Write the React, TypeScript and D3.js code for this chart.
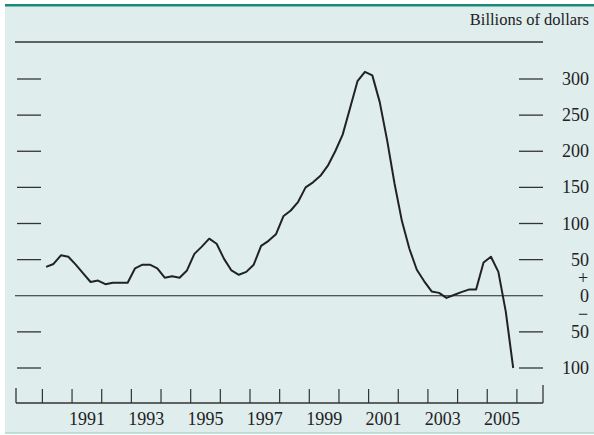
import * as d3 from "d3";

// Quarterly values, billions of dollars, 1990:Q1 - 2005:Q4
const startYear = 1990;
const values = [
  40, 44, 56, 54,
  43, 31, 19, 21,
  16, 18, 18, 18,
  38, 43, 43, 38,
  25, 27, 25, 35,
  58, 68, 79, 72,
  51, 35, 29, 33,
  43, 69, 76, 85,
  110, 118, 130, 150,
  157, 166, 180, 200,
  223, 260, 297, 310,
  305, 268, 215, 155,
  103, 65, 36, 20,
  6, 4, -3, 1,
  5, 8.5, 8.5, 46,
  54, 33, -22, -100,
];
const yTicks = [300, 250, 200, 150, 100, 50, 0, -50, -100];
const yearTicks = d3.range(1990, 2007);
const yearLabels = [1991, 1993, 1995, 1997, 1999, 2001, 2003, 2005];

const W = 594;
const H = 435;
const font = "'Liberation Serif', 'Times New Roman', serif";
const ink = "#222";

export default function App() {
  const x = d3.scaleLinear().domain([1989.11, 2006.88]).range([16, 543]);
  const y = d3.scaleLinear().domain([-100, 300]).range([368, 79]);

  const pts = values.map((v, i) => [startYear + i / 4 + 0.125, v] as [number, number]);
  const line = d3
    .line<[number, number]>()
    .x((d) => x(d[0]))
    .y((d) => y(d[1]));

  const axisY = 403;

  return (
    <svg
      width={W}
      height={H}
      style={{ position: "absolute", left: 0, top: 0, background: "#fff" }}
      fontFamily={font}
    >
      {/* panel */}
      <rect x={5} y={5} width={W - 5} height={428} fill="#dfeded" />
      <rect x={5} y={4} width={W - 5} height={2.5} fill="#1b8a78" />
      <line x1={5} x2={W} y1={433} y2={433} stroke="#a8d8cf" strokeWidth={1.5} />

      {/* units */}
      <text x={589} y={25} fontSize={16.5} textAnchor="end" fill={ink}>
        Billions of dollars
      </text>
      <line x1={15} x2={543} y1={42} y2={42} stroke="#333" strokeWidth={1.5} />

      {/* y ticks (both sides) */}
      {yTicks.map((t) =>
        t === 0 ? (
          <line key={t} x1={15} x2={543} y1={y(0)} y2={y(0)} stroke={ink} strokeWidth={1.2} />
        ) : (
          <g key={t}>
            <line x1={17} x2={41} y1={y(t)} y2={y(t)} stroke="#333" strokeWidth={1.3} />
            <line x1={519} x2={543} y1={y(t)} y2={y(t)} stroke="#333" strokeWidth={1.3} />
          </g>
        )
      )}
      {yTicks.map((t) => (
        <text key={t} x={589} y={y(t) + 6} fontSize={18} textAnchor="end" fill={ink}>
          {Math.abs(t)}
        </text>
      ))}
      <text x={583} y={(y(50) + y(0)) / 2 + 6} fontSize={18} textAnchor="middle" fill={ink}>
        +
      </text>
      <text x={583} y={(y(0) + y(-50)) / 2 + 6} fontSize={18} textAnchor="middle" fill={ink}>
        −
      </text>

      {/* x axis */}
      <line x1={16} x2={543} y1={axisY} y2={axisY} stroke="#333" strokeWidth={1.3} />
      <line x1={16} x2={16} y1={axisY} y2={axisY - 15} stroke="#333" strokeWidth={1.3} />
      <line x1={543} x2={543} y1={axisY} y2={axisY - 18} stroke="#333" strokeWidth={1.3} />
      {yearTicks.map((yr) => (
        <line key={yr} x1={x(yr)} x2={x(yr)} y1={axisY} y2={axisY - 14} stroke="#333" strokeWidth={1.2} />
      ))}
      {yearLabels.map((yr) => (
        <text key={yr} x={x(yr + 0.5)} y={425} fontSize={18} textAnchor="middle" fill={ink}>
          {yr}
        </text>
      ))}

      {/* series */}
      <path d={line(pts) ?? ""} fill="none" stroke={ink} strokeWidth={2} strokeLinejoin="round" />
    </svg>
  );
}
